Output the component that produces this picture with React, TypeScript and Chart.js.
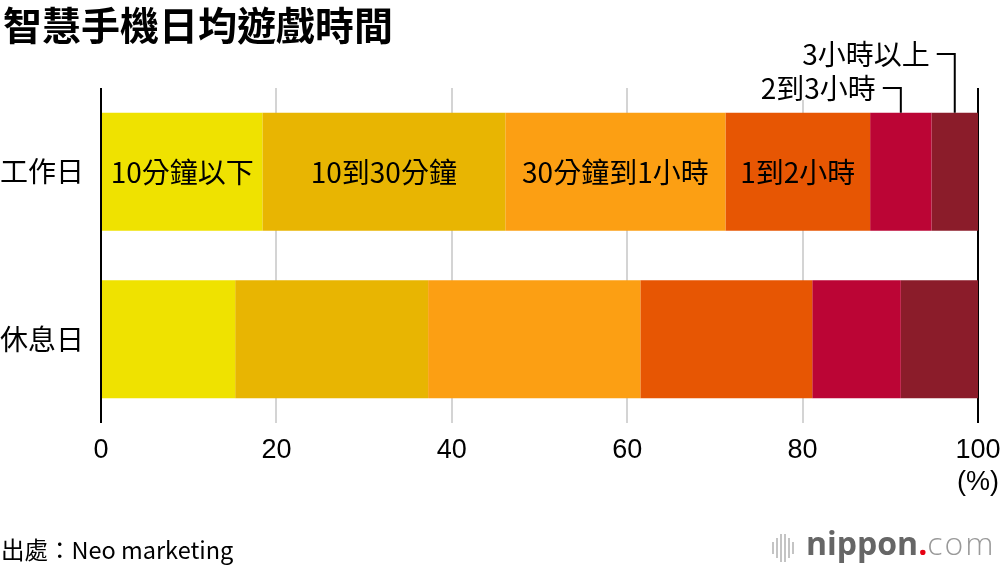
import { useEffect, useRef } from "react"
import { Chart, registerables } from "chart.js"

Chart.register(...registerables)

const categories = ["工作日", "休息日"]
const seriesNames = ["10分鐘以下", "10到30分鐘", "30分鐘到1小時", "1到2小時", "2到3小時", "3小時以上"]
const under10min = [18.4, 15.3]
const from10to30min = [27.7, 22.0]
const from30minTo1h = [25.1, 24.2]
const from1to2h = [16.5, 19.6]
const from2to3h = [7.0, 10.1]
const over3h = [5.3, 8.8]
const xTicks = [0, 20, 40, 60, 80, 100]

const colors = ["#efe200", "#e8b502", "#fc9f13", "#e75603", "#bb0535", "#8b1c2a"]
const FONT = '"Noto Sans CJK TC", "Noto Sans", sans-serif'
const NUM_FONT = '"Liberation Sans", Arial, sans-serif'

// labels inside the bar + bracket callouts for the two thin segments
const labelPlugin = {
  id: "segmentLabels",
  afterDatasetsDraw(chart: any) {
    const { ctx } = chart
    ctx.save()
    ctx.font = `28px ${FONT}`
    ctx.fillStyle = "#000"
    ctx.textBaseline = "middle"
    ctx.textAlign = "center"
    for (let i = 0; i < 4; i++) {
      const bar = chart.getDatasetMeta(i).data[0]
      ctx.fillText(seriesNames[i], (bar.x + bar.base) / 2, bar.y + 1)
    }

    const callouts = [
      { index: 4, y: 88 },
      { index: 5, y: 54 },
    ]
    ctx.textAlign = "right"
    ctx.strokeStyle = "#000"
    ctx.lineWidth = 2
    callouts.forEach(({ index, y }) => {
      const bar = chart.getDatasetMeta(index).data[0]
      const cx = (bar.x + bar.base) / 2
      const top = bar.y - bar.height / 2
      const textRight = cx - 25
      const w = ctx.measureText(seriesNames[index]).width
      ctx.fillStyle = "#fff"
      ctx.fillRect(textRight - w - 4, y - 15, w + 8, 27)
      ctx.fillStyle = "#000"
      ctx.fillText(seriesNames[index], textRight, y)
      ctx.beginPath()
      ctx.moveTo(cx - 18, y)
      ctx.lineTo(cx, y)
      ctx.lineTo(cx, top)
      ctx.stroke()
    })

    const xScale = chart.scales.x
    ctx.font = `27px ${NUM_FONT}`
    ctx.textAlign = "center"
    ctx.fillText("(%)", xScale.getPixelForValue(100), 483)
    ctx.restore()
  },
}

export default function App() {
  const canvasRef = useRef<HTMLCanvasElement>(null)

  useEffect(() => {
    if (!canvasRef.current) return
    const values = [under10min, from10to30min, from30minTo1h, from1to2h, from2to3h, over3h]
    const chart = new Chart(canvasRef.current, {
      type: "bar",
      data: {
        labels: categories,
        datasets: values.map((data, i) => ({
          label: seriesNames[i],
          data,
          backgroundColor: colors[i],
          borderWidth: 0,
          barPercentage: 0.705,
          categoryPercentage: 1,
        })),
      },
      options: {
        indexAxis: "y",
        animation: false,
        responsive: true,
        maintainAspectRatio: false,
        layout: { padding: { top: 88, right: 22, bottom: 0, left: 0 } },
        plugins: {
          legend: { display: false },
          tooltip: { enabled: false },
        },
        scales: {
          x: {
            stacked: true,
            min: 0,
            max: 100,
            afterBuildTicks: (scale: any) => {
              scale.ticks = xTicks.map((v) => ({ value: v }))
            },
            afterFit: (scale: any) => {
              scale.height = 147
              scale.paddingLeft = 0
              scale.paddingRight = 0
            },
            border: { display: false },
            grid: {
              drawTicks: false,
              lineWidth: 2,
              color: (c: any) => (c.tick && (c.tick.value === 0 || c.tick.value === 100) ? "#000" : "#d4d4d4"),
            },
            ticks: {
              padding: 11,
              color: "#000",
              font: { family: NUM_FONT, size: 27 },
            },
          },
          y: {
            stacked: true,
            afterFit: (scale: any) => {
              scale.width = 101
            },
            border: { display: false },
            grid: { display: false, drawTicks: false },
            ticks: {
              padding: 17,
              color: "#000",
              font: { family: FONT, size: 28 },
            },
          },
        },
      },
      plugins: [labelPlugin],
    })
    return () => chart.destroy()
  }, [])

  return (
    <div style={{ position: "fixed", left: 0, top: 0, width: 1000, height: 570, background: "#fff", fontFamily: FONT }}>
      <div style={{ position: "absolute", left: 3, top: 4, fontSize: 39, lineHeight: 1, fontWeight: 700, color: "#000", whiteSpace: "nowrap" }}>
        智慧手機日均遊戲時間
      </div>
      <canvas ref={canvasRef} />
      <div style={{ position: "absolute", left: 1, top: 538, fontSize: 23.5, lineHeight: 1, color: "#000", whiteSpace: "nowrap" }}>
        出處：Neo marketing
      </div>
      <div style={{ position: "absolute", left: 772, top: 533, display: "flex", alignItems: "center", gap: 2, height: 29 }}>
        {[12, 20, 28, 28, 20, 12].map((h, i) => (
          <span key={i} style={{ display: "block", width: 2, height: h, background: "#c4c4c4" }} />
        ))}
      </div>
      <div style={{ position: "absolute", left: 806, top: 527, fontSize: 32, lineHeight: 1, fontFamily: '"Open Sans", sans-serif', whiteSpace: "nowrap" }}>
        <span style={{ fontWeight: 700, color: "#666" }}>nippon</span>
        <span style={{ fontWeight: 700, color: "#e60012" }}>.</span>
        <span style={{ fontWeight: 300, color: "#999", letterSpacing: 2 }}>com</span>
      </div>
    </div>
  )
}
